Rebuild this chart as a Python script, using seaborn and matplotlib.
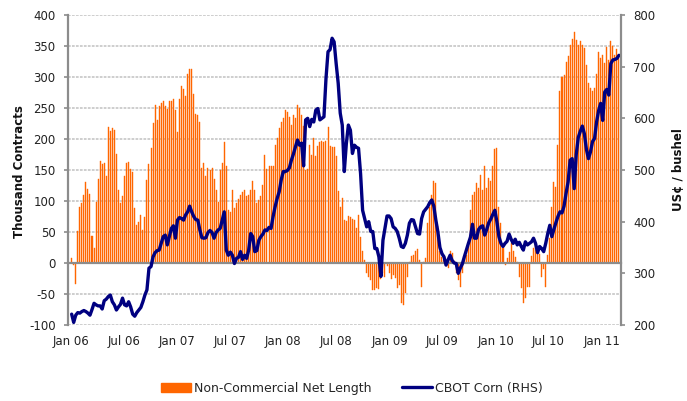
import numpy as np
import pandas as pd
import matplotlib
matplotlib.use('Agg')
import matplotlib.pyplot as plt
import seaborn as sns
from matplotlib.patches import Patch
from matplotlib.lines import Line2D

# weekly COT data, first report 2006-01-03
first_week = '2006-01-03'

# Non-commercial net length (thousand contracts)
net_length = [
    8, -3, -34, 51, 91, 96, 110, 131, 120, 112, 44, 25, 98, 135, 165, 160, 161, 141, 220, 213,
    218, 214, 176, 118, 96, 108, 140, 161, 163, 152, 147, 88, 61, 66, 78, 54, 74, 134, 159, 186,
    226, 255, 231,
    253, 258, 261, 253, 248, 261, 262, 264, 247, 212, 264, 285, 281, 269, 305, 313, 313, 273, 241, 238,
    228, 153, 162, 140, 153, 150, 153, 135, 118, 99, 150, 162, 195, 156, 86, 83, 118, 89, 97, 103,
    110, 114, 118, 108, 110, 118,
    132, 118, 97, 102, 108, 126, 175, 152, 156, 157, 156, 191, 202, 218, 227, 234, 246, 243, 235, 223,
    238, 234, 255, 250, 239, 221, 150, 152, 190, 175, 202, 173, 189, 195, 197, 195, 196, 220, 188, 187,
    187, 172, 116, 91,
    105, 70, 67, 76, 74, 71, 69, 56, 77, 42, 19, 5, -16, -22, -27, -43, -43, -40, -42, -26,
    -16, -22, -5, -16, -26, -19, -24, -40, -35, -65, -67, -48, -22, 2, 11, 13, 19, 23, 5, -38,
    2, 8, 65, 91, 110, 132, 129,
    60, 20, 10, 5, -5, -8, 19, 16, 3, -16, -27, -38, -16, 8, 13, 27, 86, 109, 114, 129,
    121, 142, 118, 156, 121, 137, 133, 157, 184, 185, 90, 65, 24, -4, 8, 17, 32, 19, 10, 2,
    -22, -40, -65, -56, -38,
    -38, 12, 25, 30, 20, 15, -22, -10, -38, 13, 40, 91, 130, 123, 190, 277, 300, 303, 325, 334,
    352, 362, 372, 360, 352, 358, 352, 346, 320, 290, 282, 277, 282, 305, 340, 330, 336, 322, 348, 328,
    358, 350, 335, 345, 330,
]

# CBOT corn, US cents / bushel (RHS)
corn_price = [
    221, 205, 219, 224, 223, 226, 228, 226, 223, 219, 230, 242, 239, 237, 237, 231, 247, 250, 255, 258,
    245, 239, 229, 235, 240, 252, 239, 237, 245, 235, 221, 217, 224, 229, 234, 245, 258, 268, 310, 313,
    332, 340, 344,
    345, 358, 371, 374, 355, 371, 387, 392, 368, 403, 408, 406, 403, 413, 419, 430, 419, 410, 404, 403,
    384, 369, 368, 369, 379, 383, 379, 368, 379, 384, 387, 403, 419, 345, 335, 341, 335, 319, 329, 331,
    342, 327, 335, 329, 345, 377,
    371, 342, 344, 364, 371, 376, 384, 383, 389, 387, 410, 429, 445, 458, 481, 497, 497, 499, 504, 519,
    531, 545, 558, 548, 552, 508, 597, 600, 584, 598, 593, 616, 619, 597, 600, 603, 677, 729, 733, 755,
    748, 706, 668, 610, 587,
    497, 551, 587, 577, 532, 548, 544, 542, 493, 422, 406, 390, 400, 381, 381, 348, 348, 332, 294, 364,
    387, 411, 411, 406, 390, 387, 381, 368, 352, 350, 358, 374, 397, 404, 403, 390, 377, 376, 406, 419,
    424, 429, 437, 442, 430,
    403, 380, 350, 338, 332, 316, 326, 335, 325, 320, 319, 300, 310, 318, 332, 345, 358, 370, 395, 368,
    368, 385, 390, 392, 374, 385, 398, 405, 414, 422, 400, 371, 358, 352, 358, 362, 376, 366, 358, 366,
    355, 360, 352, 345, 361, 355, 358, 361, 368, 358, 340, 352, 348, 342, 358, 377, 393, 371, 385, 398,
    410, 419, 417, 430, 455, 477, 519, 522, 464, 530, 563, 575, 585, 570, 540, 522, 535, 555, 561, 593,
    615, 629, 596, 651, 656, 645, 706, 713, 714, 716, 722,
]

tick_labels = ['Jan 06', 'Jul 06', 'Jan 07', 'Jul 07', 'Jan 08', 'Jul 08',
               'Jan 09', 'Jul 09', 'Jan 10', 'Jul 10', 'Jan 11']
tick_dates = ['2006-01-01', '2006-07-01', '2007-01-01', '2007-07-01', '2008-01-01', '2008-07-01',
              '2009-01-01', '2009-07-01', '2010-01-01', '2010-07-01', '2011-01-01']

bar_color = '#FF6600'
line_color = '#000080'
axis_grey = '#8C8C8C'
fs = 8.5

# week number as x, so bars and line share one numeric axis
start = pd.Timestamp(first_week)
df = pd.DataFrame({'week': np.arange(len(net_length)), 'net': net_length, 'corn': corn_price})
tick_pos = (pd.to_datetime(tick_dates) - start).days / 7

sns.set_style('white')
plt.rcParams['font.family'] = ['DejaVu Sans']
plt.rcParams['axes.unicode_minus'] = False

fig = plt.figure(figsize=(6.87, 4.01), dpi=100)
ax = fig.add_axes([68 / 687, 1 - 325 / 401, (621 - 68) / 687, 310 / 401])

sns.barplot(data=df, x='week', y='net', color=bar_color, saturation=1, width=0.5,
            native_scale=True, errorbar=None, edgecolor=bar_color, linewidth=0.3,
            ax=ax, zorder=2)

ax.set_ylim(-100, 400)
ax.set_yticks(range(-100, 401, 50))
ax.grid(axis='y', color='#CACACA', lw=1.3, ls=(0, (1.5, 0.7)))
ax.grid(axis='x', visible=False)
ax.set_axisbelow(True)
ax.set_xlabel('')
ax.set_ylabel('')

ax.spines['bottom'].set_position(('data', 0))
ax.spines['top'].set_visible(False)
ax.spines['right'].set_visible(False)
for s in ['bottom', 'left']:
    ax.spines[s].set_color(axis_grey)
    ax.spines[s].set_linewidth(1.6)

ax.set_xticks(tick_pos)
ax.set_xticklabels(tick_labels)
ax.tick_params(axis='x', direction='out', length=3, width=1.2, color=axis_grey,
               pad=49, labelsize=fs, labelcolor='#222222')
ax.tick_params(axis='y', direction='out', length=3, width=1.2, color=axis_grey,
               pad=6, labelsize=fs, labelcolor='#222222')

# price on the right axis
ax2 = ax.twinx()
sns.lineplot(data=df, x='week', y='corn', color=line_color, lw=2.4, ax=ax2)
ax2.set_ylim(200, 800)
ax2.set_yticks(range(200, 801, 100))
ax2.set_ylabel('')
ax2.set_xlabel('')
for s in ['top', 'bottom', 'left']:
    ax2.spines[s].set_visible(False)
ax2.spines['right'].set_color(axis_grey)
ax2.spines['right'].set_linewidth(1.6)
ax2.tick_params(axis='y', direction='out', length=3, width=1.2, color=axis_grey,
                pad=6, labelsize=fs, labelcolor='#222222')
ax2.grid(False)

ax.set_xlim(-1.8, 270)

fig.text(20 / 687, 1 - 172 / 401, 'Thousand Contracts', rotation=90, ha='center', va='center',
         fontsize=fs, fontweight='bold', color='#111111')
fig.text(679 / 687, 1 - 170 / 401, 'US¢ / bushel', rotation=90, ha='center', va='center',
         fontsize=fs, fontweight='bold', color='#111111')

handles = [Patch(color=bar_color), Line2D([], [], color=line_color, lw=2.4)]
fig.legend(handles, ['Non-Commercial Net Length', 'CBOT Corn (RHS)'], loc='center',
           bbox_to_anchor=(0.512, 0.032), ncol=2, frameon=False, fontsize=9,
           handlelength=2.4, handleheight=0.75, handletextpad=0.25, columnspacing=2.4)

fig.savefig('out.png', dpi=100)
